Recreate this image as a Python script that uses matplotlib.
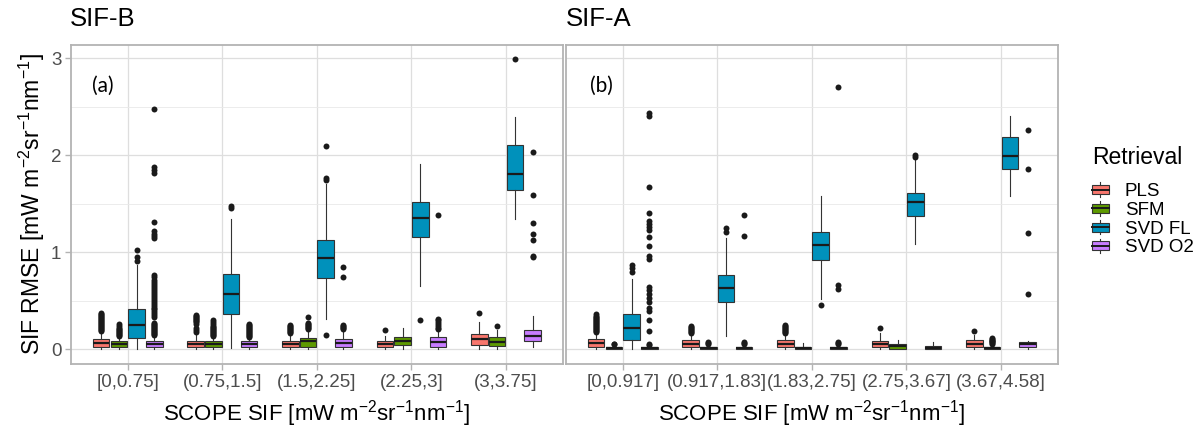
import numpy as np
import matplotlib
matplotlib.use('Agg')
import matplotlib.pyplot as plt
from matplotlib.legend_handler import HandlerBase
from matplotlib.patches import Rectangle, Patch
from matplotlib.lines import Line2D

plt.rcParams['font.family'] = ['Liberation Sans', 'DejaVu Sans']
plt.rcParams['mathtext.fontset'] = 'custom'
plt.rcParams['mathtext.rm'] = 'Liberation Sans'
plt.rcParams['mathtext.it'] = 'Liberation Sans:italic'
plt.rcParams['mathtext.bf'] = 'Liberation Sans:bold'

methods = ['PLS', 'SFM', 'SVD FL', 'SVD O2']
colors = ['#F8766D', '#5E9A00', '#0091BB', '#C77CFF']

bins_b = ['[0,0.75]', '(0.75,1.5]', '(1.5,2.25]', '(2.25,3]', '(3,3.75]']
bins_a = ['[0,0.917]', '(0.917,1.83]', '(1.83,2.75]', '(2.75,3.67]', '(3.67,4.58]']

# ---- SIF-B: box stats per retrieval, one value per SCOPE SIF bin ----
b_q1 = {'PLS': [0.027, 0.02, 0.027, 0.02, 0.045],
        'SFM': [0.02, 0.02, 0.027, 0.041, 0.038],
        'SVD FL': [0.12, 0.364, 0.735, 1.155, 1.645],
        'SVD O2': [0.02, 0.02, 0.02, 0.027, 0.086]}
b_med = {'PLS': [0.069, 0.058, 0.058, 0.055, 0.103],
         'SFM': [0.05, 0.058, 0.086, 0.086, 0.079],
         'SVD FL': [0.25, 0.567, 0.938, 1.357, 1.81],
         'SVD O2': [0.05, 0.05, 0.062, 0.079, 0.137]}
b_q3 = {'PLS': [0.103, 0.09, 0.09, 0.082, 0.155],
        'SFM': [0.082, 0.09, 0.117, 0.124, 0.124],
        'SVD FL': [0.42, 0.78, 1.124, 1.52, 2.11],
        'SVD O2': [0.08, 0.08, 0.103, 0.124, 0.2]}
b_lo = {'PLS': [0, 0, 0, 0, 0],
        'SFM': [0, 0, 0, 0, 0],
        'SVD FL': [0, 0.01, 0.31, 0.653, 1.34],
        'SVD O2': [0, 0, 0, 0, 0.02]}
b_hi = {'PLS': [0.18, 0.17, 0.15, 0.14, 0.28],
        'SFM': [0.12, 0.13, 0.2, 0.22, 0.2],
        'SVD FL': [0.87, 1.34, 1.7, 1.91, 2.39],
        'SVD O2': [0.14, 0.12, 0.2, 0.19, 0.347]}
b_out = {'PLS': [[0.19, 0.2, 0.21, 0.22, 0.23, 0.24, 0.25, 0.26, 0.27, 0.28, 0.29, 0.3,
                  0.31, 0.32, 0.33, 0.34, 0.35, 0.36, 0.37],
                 [0.18, 0.2, 0.22, 0.26, 0.28, 0.29, 0.3, 0.31, 0.32, 0.33, 0.34, 0.35],
                 [0.17, 0.18, 0.19, 0.2, 0.21, 0.22, 0.23, 0.24, 0.25],
                 [0.2],
                 [0.378]],
         'SFM': [[0.14, 0.15, 0.16, 0.17, 0.18, 0.19, 0.2, 0.21, 0.22, 0.24, 0.26],
                 [0.14, 0.15, 0.16, 0.17, 0.18, 0.19, 0.2, 0.21, 0.22, 0.23, 0.24, 0.26,
                  0.28, 0.3],
                 [0.21, 0.22, 0.23, 0.24, 0.25, 0.26, 0.27, 0.33],
                 [],
                 [0.237]],
         'SVD FL': [[0.91, 0.95, 1.02],
                    [1.46, 1.48],
                    [0.148, 1.75, 1.77, 2.1],
                    [0.305],
                    [2.99]],
         'SVD O2': [[0.15, 0.16, 0.17, 0.18, 0.19, 0.2, 0.21, 0.22, 0.23, 0.24, 0.25, 0.26,
                     0.27, 0.33, 0.35, 0.37, 0.39, 0.41, 0.43, 0.45, 0.47, 0.49, 0.51, 0.53,
                     0.55, 0.57, 0.59, 0.61, 0.63, 0.65, 0.67, 0.69, 0.71, 0.74, 0.77,
                     1.15, 1.17, 1.19, 1.22, 1.31, 1.82, 1.85, 1.88, 2.48],
                    [0.13, 0.14, 0.15, 0.16, 0.17, 0.18, 0.19, 0.2, 0.21, 0.22, 0.23, 0.24,
                     0.25, 0.26],
                    [0.21, 0.22, 0.23, 0.24, 0.25, 0.75, 0.85],
                    [0.21, 0.22, 0.24, 0.26, 0.28, 0.3, 0.31, 1.38],
                    [0.95, 0.96, 1.13, 1.19, 1.3, 1.59, 2.03]]}

# ---- SIF-A ----
a_q1 = {'PLS': [0.027, 0.02, 0.02, 0.02, 0.02],
        'SFM': [0.003, 0.003, 0.003, 0.007, 0.003],
        'SVD FL': [0.096, 0.488, 0.92, 1.375, 1.86],
        'SVD O2': [0.003, 0.003, 0.003, 0.005, 0.027]}
a_med = {'PLS': [0.069, 0.058, 0.058, 0.055, 0.055],
         'SFM': [0.012, 0.01, 0.012, 0.034, 0.012],
         'SVD FL': [0.22, 0.636, 1.08, 1.52, 1.99],
         'SVD O2': [0.01, 0.01, 0.01, 0.015, 0.05]}
a_q3 = {'PLS': [0.103, 0.093, 0.093, 0.082, 0.093],
        'SFM': [0.025, 0.02, 0.025, 0.055, 0.025],
        'SVD FL': [0.368, 0.77, 1.21, 1.61, 2.19],
        'SVD O2': [0.02, 0.02, 0.02, 0.03, 0.072]}
a_lo = {'PLS': [0, 0, 0, 0, 0],
        'SFM': [0, 0, 0, 0, 0],
        'SVD FL': [0, 0.137, 0.515, 1.09, 1.58],
        'SVD O2': [0, 0, 0, 0, 0.003]}
a_hi = {'PLS': [0.17, 0.16, 0.16, 0.165, 0.15],
        'SFM': [0.04, 0.04, 0.06, 0.1, 0.04],
        'SVD FL': [0.725, 1.144, 1.58, 1.95, 2.4],
        'SVD O2': [0.03, 0.04, 0.04, 0.07, 0.08]}
a_out = {'PLS': [[0.18, 0.19, 0.2, 0.21, 0.22, 0.23, 0.24, 0.25, 0.26, 0.27, 0.28, 0.29,
                  0.3, 0.31, 0.32, 0.33, 0.34, 0.36],
                 [0.17, 0.18, 0.19, 0.2, 0.21, 0.22, 0.23, 0.24],
                 [0.17, 0.18, 0.19, 0.2, 0.21, 0.22, 0.23, 0.24, 0.25],
                 [0.22],
                 [0.19]],
         'SFM': [[0.05, 0.055],
                 [0.05, 0.06, 0.07],
                 [],
                 [],
                 [0.05, 0.06, 0.07, 0.08, 0.09, 0.1, 0.11, 0.12]],
         'SVD FL': [[0.8, 0.835, 0.87],
                    [1.206, 1.247],
                    [0.454],
                    [1.98, 2.0],
                    []],
         'SVD O2': [[0.04, 0.05, 0.19, 0.3, 0.39, 0.43, 0.49, 0.53, 0.57, 0.61, 0.64, 0.93,
                     0.96, 1.06, 1.16, 1.23, 1.26, 1.29, 1.32, 1.41, 1.67, 2.41, 2.44],
                    [0.05, 0.06, 0.07, 1.17, 1.385],
                    [0.05, 0.06, 0.07, 0.62, 0.663, 2.7],
                    [],
                    [0.57, 1.2, 1.86, 2.26]]}

offsets = [-0.281, -0.094, 0.094, 0.281]
edge = '#333333'
grid_c = '#DEDEDE'
frame_c = '#B3B3B3'
ylabel = r'SIF RMSE [mW m$^{-2}$sr$^{-1}$nm$^{-1}$]'
xlabel = r'SCOPE SIF [mW m$^{-2}$sr$^{-1}$nm$^{-1}$]'


def draw_panel(ax, bins, q1, med, q3, lo, hi, out):
    x = np.arange(1, len(bins) + 1)
    for k, m in enumerate(methods):
        stats = []
        for i in range(len(bins)):
            stats.append(dict(med=med[m][i], q1=q1[m][i], q3=q3[m][i],
                              whislo=lo[m][i], whishi=hi[m][i],
                              fliers=out[m][i]))
        ax.bxp(stats, positions=x + offsets[k], widths=0.175, patch_artist=True,
               showcaps=False, manage_ticks=False,
               boxprops=dict(facecolor=colors[k], edgecolor=edge, linewidth=0.8),
               medianprops=dict(color='#1a1a1a', linewidth=1.6),
               whiskerprops=dict(color=edge, linewidth=0.8),
               flierprops=dict(marker='o', markerfacecolor='#1a1a1a',
                               markeredgecolor='none', markersize=4.3))
    ax.set_xlim(0.4, 5.6)
    ax.set_ylim(-0.152, 3.137)
    ax.set_xticks(x)
    ax.set_xticklabels(bins)
    ax.set_yticks([0, 1, 2, 3])
    ax.set_yticks([0.5, 1.5, 2.5], minor=True)
    ax.set_axisbelow(True)
    ax.grid(which='major', color=grid_c, linewidth=0.9)
    ax.grid(which='minor', axis='y', color='#E9E9E9', linewidth=0.6)
    for s in ax.spines.values():
        s.set_color(frame_c)
        s.set_linewidth(1.3)
    ax.tick_params(which='major', length=4, width=1, color=frame_c,
                   labelcolor='#4D4D4D', labelsize=13.5, pad=3)
    ax.tick_params(which='minor', length=0)
    ax.set_xlabel(xlabel, fontsize=16, labelpad=5)


fig = plt.figure(figsize=(12.02, 4.37), dpi=100)
W, H = 1202.0, 437.0
ax1 = fig.add_axes([71 / W, 1 - 364 / H, 491.7 / W, 319 / H])
ax2 = fig.add_axes([566 / W, 1 - 364 / H, 491.7 / W, 319 / H])

draw_panel(ax1, bins_b, b_q1, b_med, b_q3, b_lo, b_hi, b_out)
draw_panel(ax2, bins_a, a_q1, a_med, a_q3, a_lo, a_hi, a_out)

ax1.set_ylabel(ylabel, fontsize=16.5, labelpad=3)
ax2.tick_params(axis='y', which='both', left=False, labelleft=False)

ax1.text(0.74, 2.72, '(a)', fontsize=15, family=['Lato', 'DejaVu Sans'],
         ha='center', va='center')
ax2.text(0.77, 2.72, '(b)', fontsize=15, family=['Lato', 'DejaVu Sans'],
         ha='center', va='center')

fig.text(70 / W, 1 - 19 / H, 'SIF-B', fontsize=18.5, va='center', ha='left')
fig.text(566 / W, 1 - 19 / H, 'SIF-A', fontsize=18.5, va='center', ha='left')


class BoxKey(HandlerBase):
    def create_artists(self, legend, orig, xd, yd, w, h, fs, trans):
        x0, y0 = -xd, -yd
        fc = orig.get_facecolor()
        box = Rectangle((x0, y0 + 0.22 * h), w, 0.56 * h, facecolor=fc,
                        edgecolor=edge, linewidth=0.8, transform=trans)
        mid = Line2D([x0, x0 + w], [y0 + 0.5 * h] * 2, color='#1a1a1a',
                     linewidth=1.4, transform=trans)
        w1 = Line2D([x0 + w / 2] * 2, [y0 + 0.06 * h, y0 + 0.22 * h], color=edge,
                    linewidth=0.8, transform=trans)
        w2 = Line2D([x0 + w / 2] * 2, [y0 + 0.78 * h, y0 + 0.94 * h], color=edge,
                    linewidth=0.8, transform=trans)
        return [box, mid, w1, w2]


handles = [Patch(facecolor=c, edgecolor=edge) for c in colors]
leg = fig.legend(handles, methods, title='Retrieval', loc='upper left',
                 bbox_to_anchor=(1092 / W, 1 - 146 / H), frameon=False,
                 fontsize=13.5, title_fontsize=16.5, alignment='left',
                 borderaxespad=0, borderpad=0, handlelength=0.9,
                 handleheight=0.98, labelspacing=0.0, handletextpad=0.85,
                 handler_map={Patch: BoxKey()})
# more room between the legend title and the first key, as in ggplot
leg._legend_box.sep = 9

fig.savefig('out.png', dpi=100)
